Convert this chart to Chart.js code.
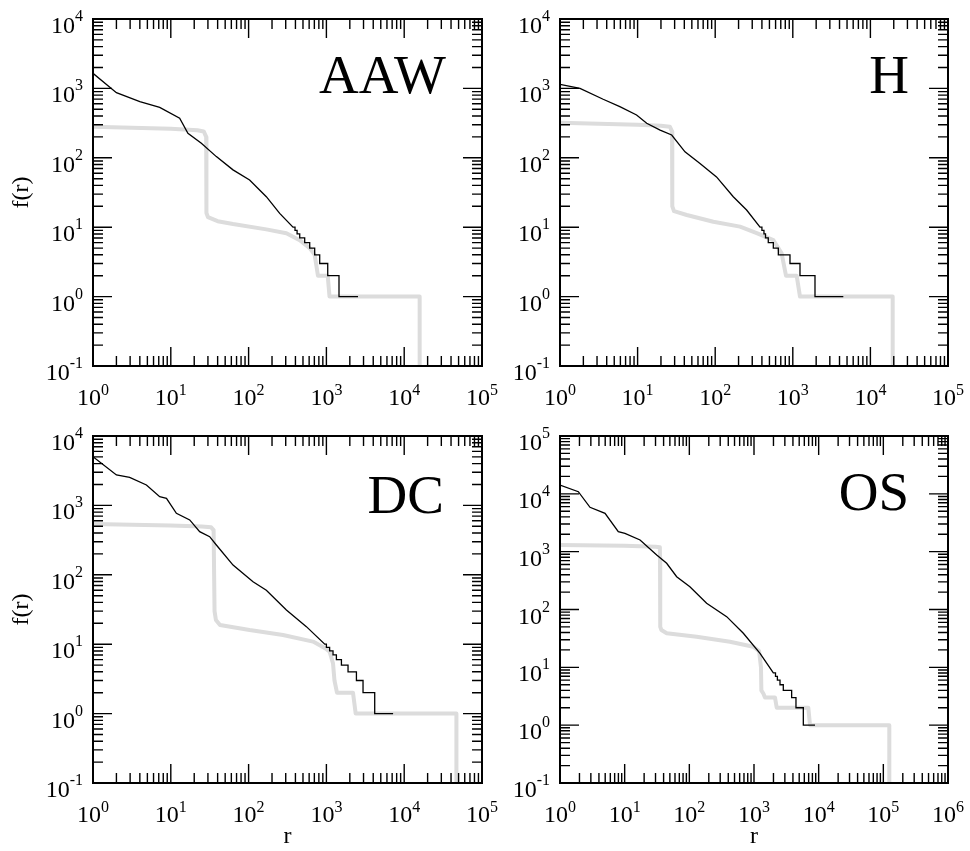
<!DOCTYPE html>
<html>
<head>
<meta charset="utf-8">
<script src="https://cdn.jsdelivr.net/npm/chart.js@4"></script>
<style>
  html, body { margin: 0; padding: 0; background: #fff; }
  #wrap { position: relative; width: 970px; height: 851px; }
  #wrap canvas { position: absolute; left: 0; top: 0; }
</style>
</head>
<body>
<div id="wrap">
  <canvas id="c0" width="970" height="851"></canvas>
  <canvas id="c1" width="970" height="851"></canvas>
  <canvas id="c2" width="970" height="851"></canvas>
  <canvas id="c3" width="970" height="851"></canvas>
</div>
<script>
// panel names
const panelNames = ['AAW', 'H', 'DC', 'OS'];

// AAW
const aawBlackR = [1, 2, 4, 7.2, 13, 16.6, 24.7, 38.5, 63, 103, 169, 251, 372, 395, 395, 420, 420, 454, 454, 526, 526, 610, 610, 707, 707, 820, 820, 1040, 1040, 1452, 1452, 2547];
const aawBlackF = [1650, 867, 643, 534, 371, 225, 162, 104, 67, 48, 27.5, 15.8, 10, 10, 9, 9, 8, 8, 7, 7, 6, 6, 5, 5, 4, 4, 3, 3, 2, 2, 1, 1];
const aawGrayR = [1, 10, 22, 26.5, 28.5, 28.7, 30, 40, 63, 169, 306, 454, 610, 707, 779, 1040, 1097, 15800, 15800];
const aawGrayF = [281, 262, 250, 240, 200, 16, 14, 12.2, 11.1, 9.3, 8.2, 6.5, 5, 4, 2, 2, 1, 1, 0.05];

// H
const hBlackR = [1, 1.81, 3.6, 5.9, 9.7, 13.1, 19.5, 27.5, 40.8, 63.7, 104, 171, 254, 378, 400, 400, 425, 425, 445, 445, 483, 483, 561, 561, 651, 651, 920, 920, 1238, 1238, 1932, 1932, 4477];
const hBlackF = [1146, 1003, 697, 545, 414, 314, 251, 213, 122, 83, 53, 27.5, 17.7, 10, 10, 9, 9, 8, 8, 7, 7, 6, 6, 5, 5, 4, 4, 3, 3, 2, 2, 1, 1];
const hGrayR = [1, 10, 20, 26, 27.8, 28, 29.5, 43, 94.6, 209, 343, 561, 718, 817, 1122, 1238, 19370, 19370];
const hGrayF = [321, 300, 290, 281, 240, 20, 17, 15, 12, 10.2, 8.2, 6.5, 4.2, 2, 2, 1, 1, 0.05];

// DC
const dcBlackR = [1, 2, 2.96, 4.86, 7.2, 8.8, 11.8, 17.5, 23.5, 31.6, 38.5, 63.1, 114, 169, 306, 553, 952, 1000, 1000, 1100, 1100, 1216, 1216, 1344, 1344, 1560, 1560, 1897, 1897, 2432, 2432, 2957, 2957, 4178, 4178, 7200];
const dcBlackF = [5035, 2742, 2541, 1968, 1336, 1265, 769, 617, 418, 354, 269, 138, 79.5, 60, 31.1, 17.9, 10, 10, 9, 9, 8, 8, 7, 7, 6, 6, 5, 5, 4, 4, 3, 3, 2, 2, 1, 1];
const dcGrayR = [1, 10, 25, 33, 35.5, 36.5, 38, 42.9, 103, 277, 673, 1000, 1101, 1216, 1270, 1368, 2198, 2378, 46900, 46900];
const dcGrayF = [540, 515, 495, 483, 440, 30, 22.3, 18.9, 16, 13.6, 10.9, 8.5, 7.8, 5.3, 3, 2, 2, 1, 1, 0.05];

// OS
const osBlackR = [1, 1.92, 2.91, 4.97, 7.97, 10.1, 17.3, 31.3, 44.6, 63.7, 102, 185, 378, 684, 1239, 1990, 2150, 2150, 2300, 2300, 2524, 2524, 2838, 2838, 3821, 3821, 4457, 4457, 5790, 5790, 8770];
const osBlackF = [14220, 10890, 5850, 4610, 2218, 2075, 1592, 877, 630, 369, 248, 128, 75.2, 38.8, 17.5, 8, 8, 7, 7, 6, 6, 5, 5, 4, 4, 3, 3, 2, 2, 1, 1];
const osGrayR = [1, 10, 30, 35, 35.2, 35.5, 37, 44.7, 130, 425, 975, 1200, 1282, 1300, 1400, 1479, 2113, 2247, 6918, 7345, 123700, 123700];
const osGrayF = [1305, 1270, 1220, 1191, 800, 50, 44.2, 38.8, 33.9, 27.7, 22.7, 19, 10, 4, 3.5, 3, 3, 2, 2, 1, 1, 0.05];

// axis decades (exponents) for each panel
const xDecades = [[0, 5], [0, 5], [0, 5], [0, 6]];
const yDecades = [[-1, 4], [-1, 4], [-1, 4], [-1, 5]];

const SERIF = '"Liberation Serif", "Times New Roman", serif';

const panels = [
  { left: 93, top: 19, right: 482, bottom: 366, labelX: 446, labelY: 93, yTitle: true, xTitle: false },
  { left: 560, top: 19, right: 948, bottom: 366, labelX: 909, labelY: 93, yTitle: false, xTitle: false },
  { left: 93, top: 436, right: 482, bottom: 783, labelX: 444, labelY: 513, yTitle: true, xTitle: true },
  { left: 560, top: 436, right: 948, bottom: 783, labelX: 909, labelY: 510, yTitle: false, xTitle: true }
];

function powLabel(ctx, exp, x, y, expDy, align) {
  ctx.font = '24px ' + SERIF;
  const w1 = ctx.measureText('10').width;
  ctx.font = '16px ' + SERIF;
  const w2 = ctx.measureText(String(exp)).width;
  let start = align === 'center' ? x - (w1 + w2) / 2 : x - (w1 + w2);
  ctx.font = '24px ' + SERIF;
  ctx.fillText('10', start, y);
  ctx.font = '16px ' + SERIF;
  ctx.fillText(String(exp), start + w1, y - expDy);
}

function framePlugin(idx) {
  const p = panels[idx];
  return {
    id: 'frame' + idx,
    afterDraw(chart) {
      const ctx = chart.ctx;
      const xs = chart.scales.x, ys = chart.scales.y;
      const a = chart.chartArea;
      const [x0, x1] = xDecades[idx], [y0, y1] = yDecades[idx];
      ctx.save();
      ctx.strokeStyle = '#000';
      ctx.fillStyle = '#000';

      // ticks
      ctx.lineWidth = 1.4;
      ctx.beginPath();
      for (let e = x0; e <= x1; e++) {
        for (let k = 1; k <= (e < x1 ? 9 : 1); k++) {
          const px = xs.getPixelForValue(k * Math.pow(10, e));
          const len = k === 1 ? 19 : 10;
          ctx.moveTo(px, a.bottom); ctx.lineTo(px, a.bottom - len);
          ctx.moveTo(px, a.top); ctx.lineTo(px, a.top + len);
        }
      }
      for (let e = y0; e <= y1; e++) {
        for (let k = 1; k <= (e < y1 ? 9 : 1); k++) {
          const py = ys.getPixelForValue(k * Math.pow(10, e));
          const len = k === 1 ? 19 : 10;
          ctx.moveTo(a.left, py); ctx.lineTo(a.left + len, py);
          ctx.moveTo(a.right, py); ctx.lineTo(a.right - len, py);
        }
      }
      ctx.stroke();

      // frame
      ctx.lineWidth = 2;
      ctx.strokeRect(a.left, a.top, a.right - a.left, a.bottom - a.top);

      // tick labels
      ctx.textAlign = 'left';
      ctx.textBaseline = 'alphabetic';
      for (let e = x0; e <= x1; e++) {
        powLabel(ctx, e, xs.getPixelForValue(Math.pow(10, e)), a.bottom + 39, 10, 'center');
      }
      for (let e = y0; e <= y1; e++) {
        powLabel(ctx, e, a.left - 10, ys.getPixelForValue(Math.pow(10, e)) + 14, 12, 'right');
      }

      // axis titles
      ctx.font = '24px ' + SERIF;
      ctx.textAlign = 'center';
      if (p.yTitle) {
        ctx.save();
        ctx.translate(22, (a.top + a.bottom) / 2);
        ctx.rotate(-Math.PI / 2);
        ctx.textBaseline = 'middle';
        ctx.fillText('f(r)', 0, 0);
        ctx.restore();
      }
      if (p.xTitle) {
        ctx.fillText('r', (a.left + a.right) / 2, 843);
      }

      // panel label
      ctx.font = '55px ' + SERIF;
      ctx.textAlign = 'right';
      ctx.fillText(panelNames[idx], p.labelX, p.labelY);
      ctx.restore();
    }
  };
}

function makePanel(idx, blackR, blackF, grayR, grayF) {
  const p = panels[idx];
  const pts = (rs, fs) => rs.map((r, i) => ({ x: r, y: fs[i] }));
  new Chart(document.getElementById('c' + idx), {
    type: 'line',
    data: {
      datasets: [
        { data: pts(blackR, blackF), borderColor: '#000', borderWidth: 1.3, pointRadius: 0, tension: 0, clip: 0 },
        { data: pts(grayR, grayF), borderColor: '#dcdcdc', borderWidth: 4, pointRadius: 0, tension: 0, clip: 0, borderJoinStyle: 'round' }
      ]
    },
    options: {
      responsive: false,
      animation: false,
      events: [],
      layout: { padding: { left: p.left, top: p.top, right: 970 - p.right, bottom: 851 - p.bottom } },
      plugins: { legend: { display: false }, tooltip: { enabled: false } },
      scales: {
        x: { type: 'logarithmic', min: Math.pow(10, xDecades[idx][0]), max: Math.pow(10, xDecades[idx][1]), display: false },
        y: { type: 'logarithmic', min: Math.pow(10, yDecades[idx][0]), max: Math.pow(10, yDecades[idx][1]), display: false }
      }
    },
    plugins: [framePlugin(idx)]
  });
}

makePanel(0, aawBlackR, aawBlackF, aawGrayR, aawGrayF);
makePanel(1, hBlackR, hBlackF, hGrayR, hGrayF);
makePanel(2, dcBlackR, dcBlackF, dcGrayR, dcGrayF);
makePanel(3, osBlackR, osBlackF, osGrayR, osGrayF);
</script>
</body>
</html>
